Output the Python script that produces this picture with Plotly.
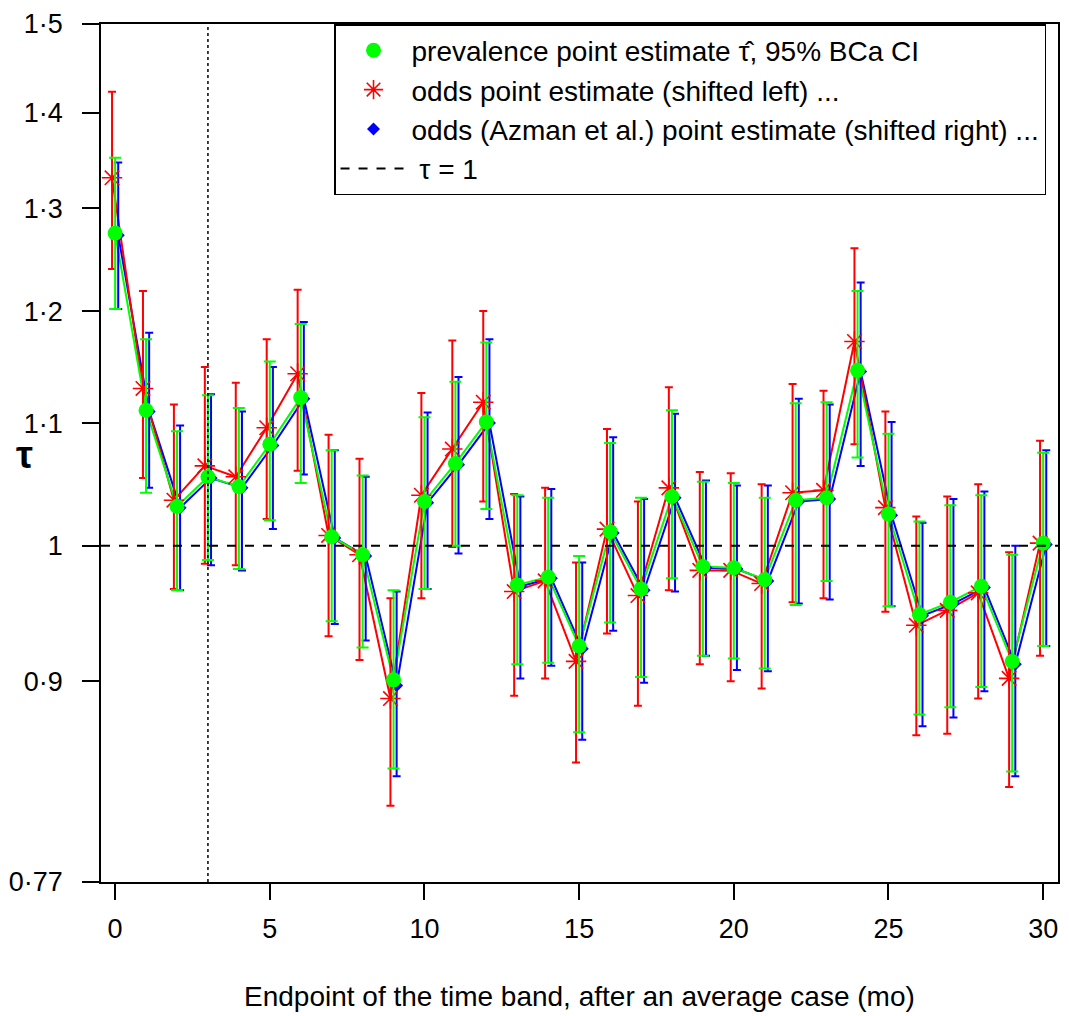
import plotly.graph_objects as go

# ---------------- data ----------------
months = list(range(31))

prev_est = [1.275, 1.111, 1.031, 1.055, 1.047, 1.082, 1.122, 1.007, 0.993, 0.901,
            1.035, 1.066, 1.101, 0.970, 0.976, 0.925, 1.011, 0.967, 1.039, 0.984,
            0.983, 0.974, 1.036, 1.038, 1.146, 1.025, 0.948, 0.957, 0.969, 0.914, 1.002]
prev_lo = [1.202, 1.042, 0.966, 0.989, 0.982, 1.020, 1.050, 0.943, 0.924, 0.841,
           0.967, 1.000, 1.029, 0.912, 0.913, 0.865, 0.942, 0.903, 0.975, 0.918,
           0.916, 0.909, 0.955, 0.973, 1.071, 0.954, 0.877, 0.882, 0.896, 0.839, 0.925]
prev_hi = [1.352, 1.174, 1.093, 1.124, 1.113, 1.154, 1.188, 1.077, 1.056, 0.966,
           1.105, 1.136, 1.171, 1.040, 1.038, 0.992, 1.083, 1.038, 1.111, 1.051,
           1.050, 1.038, 1.117, 1.118, 1.219, 1.091, 1.019, 1.032, 1.040, 0.993, 1.075]

odds_est = [1.331, 1.130, 1.036, 1.064, 1.055, 1.096, 1.143, 1.008, 0.993, 0.888,
            1.040, 1.078, 1.118, 0.965, 0.973, 0.914, 1.013, 0.962, 1.046, 0.981,
            0.981, 0.971, 1.042, 1.044, 1.172, 1.030, 0.940, 0.951, 0.964, 0.902, 1.002]
odds_lo = [1.240, 1.054, 0.967, 0.986, 0.985, 1.021, 1.060, 0.932, 0.915, 0.817,
           0.960, 0.999, 1.035, 0.890, 0.902, 0.845, 0.934, 0.883, 0.966, 0.912,
           0.900, 0.895, 0.957, 0.960, 1.082, 0.950, 0.863, 0.864, 0.888, 0.829, 0.918]
odds_hi = [1.423, 1.219, 1.116, 1.149, 1.135, 1.174, 1.220, 1.090, 1.070, 0.960,
           1.126, 1.173, 1.200, 1.041, 1.046, 0.987, 1.095, 1.035, 1.131, 1.059,
           1.058, 1.049, 1.134, 1.128, 1.260, 1.110, 1.023, 1.039, 1.049, 0.995, 1.085]

azman_est = [1.273, 1.110, 1.030, 1.054, 1.046, 1.081, 1.121, 1.006, 0.992, 0.897,
             1.034, 1.065, 1.100, 0.969, 0.975, 0.923, 1.010, 0.966, 1.038, 0.983,
             0.982, 0.973, 1.035, 1.037, 1.145, 1.024, 0.947, 0.956, 0.968, 0.912, 1.001]
azman_lo = [1.202, 1.046, 0.966, 0.985, 0.981, 1.013, 1.057, 0.941, 0.929, 0.836,
            0.967, 0.994, 1.021, 0.902, 0.911, 0.860, 0.936, 0.899, 0.965, 0.918,
            0.908, 0.907, 0.956, 0.959, 1.064, 0.954, 0.869, 0.875, 0.893, 0.836, 0.925]
azman_hi = [1.347, 1.180, 1.098, 1.125, 1.110, 1.149, 1.190, 1.077, 1.055, 0.965,
            1.109, 1.140, 1.174, 1.039, 1.045, 0.987, 1.088, 1.037, 1.108, 1.052,
            1.048, 1.048, 1.121, 1.116, 1.227, 1.101, 1.018, 1.037, 1.043, 1.000, 1.077]

y_tickvals = [0.77, 0.9, 1.0, 1.1, 1.2, 1.3, 1.4, 1.5]
y_ticktext = ["0·77", "0·9", "1", "1·1", "1·2", "1·3", "1·4", "1·5"]
x_tickvals = [0, 5, 10, 15, 20, 25, 30]

shift = 0.1
threshold_month = 3
reference_tau = 1.0

FONT = "Liberation Sans, Arial, sans-serif"
FS = 27
FS_BIG = 28


def errs(est, lo, hi):
    return ([h - e for e, h in zip(est, hi)], [e - l for e, l in zip(est, lo)])


x_odds = [m - shift for m in months]
x_az = [m + shift for m in months]

fig = go.Figure()

# connecting lines
for xs, ys, col in [(x_az, azman_est, "#0000FF"), (x_odds, odds_est, "#FF0000"),
                    (months, prev_est, "#00FF00")]:
    fig.add_trace(go.Scatter(x=xs, y=ys, mode="lines", line=dict(color=col, width=2),
                             showlegend=False, hoverinfo="skip"))

# Azman (blue)
up, dn = errs(azman_est, azman_lo, azman_hi)
fig.add_trace(go.Scatter(
    x=x_az, y=azman_est, mode="markers",
    name="odds (Azman et al.) point estimate (shifted right) ...",
    marker=dict(symbol="diamond", size=10, color="#0000FF"),
    error_y=dict(type="data", array=up, arrayminus=dn, color="#0000FF",
                 thickness=2, width=4),
    legendrank=3))

# odds (red)
up, dn = errs(odds_est, odds_lo, odds_hi)
fig.add_trace(go.Scatter(
    x=x_odds, y=odds_est, mode="markers",
    name="odds point estimate (shifted left) ...",
    marker=dict(symbol="asterisk-open", size=17, color="#FF0000",
                line=dict(color="#FF0000", width=1.6)),
    error_y=dict(type="data", array=up, arrayminus=dn, color="#FF0000",
                 thickness=2, width=4),
    legendrank=2))

# prevalence (green)
up, dn = errs(prev_est, prev_lo, prev_hi)
fig.add_trace(go.Scatter(
    x=months, y=prev_est, mode="markers",
    name="prevalence point estimate τ\u0302, 95% BCa CI",
    marker=dict(symbol="circle", size=15, color="#00FF00"),
    error_y=dict(type="data", array=up, arrayminus=dn, color="#00FF00",
                 thickness=2, width=6),
    legendrank=1))

# reference lines
fig.add_shape(type="line", xref="paper", x0=0, x1=1, yref="y",
              y0=reference_tau, y1=reference_tau,
              line=dict(color="black", width=2, dash="dash"),
              showlegend=True, name=" τ = 1", legendrank=4)
fig.add_shape(type="line", xref="x", x0=threshold_month, x1=threshold_month,
              yref="paper", y0=0, y1=1,
              line=dict(color="black", width=1.5, dash="dot"))

fig.update_layout(
    width=1069, height=1016, autosize=False,
    margin=dict(l=99, r=9, t=18, b=134),
    paper_bgcolor="white", plot_bgcolor="white",
    font=dict(family=FONT, size=FS, color="black"),
    legend=dict(x=0.2435, y=1.0, xanchor="left", yanchor="top",
                bgcolor="white", bordercolor="black", borderwidth=1.5,
                font=dict(family=FONT, size=FS_BIG), itemwidth=66,
                traceorder="normal"),
    xaxis=dict(range=[-0.457, 30.48], tickvals=x_tickvals, showgrid=False,
               zeroline=False, showline=True, mirror=True, linecolor="black",
               linewidth=1.5, ticks="outside", ticklen=16, tickwidth=1.5,
               tickcolor="black", ticklabelstandoff=6,
               tickfont=dict(family=FONT, size=FS)),
    yaxis=dict(type="log", range=[-0.11351, 0.17609], tickvals=y_tickvals,
               ticktext=y_ticktext, showgrid=False, zeroline=False,
               showline=True, mirror=True, linecolor="black", linewidth=1.5,
               ticks="outside", ticklen=17, tickwidth=1.5, tickcolor="black",
               ticklabelstandoff=14, tickfont=dict(family=FONT, size=FS)),
    annotations=[
        dict(text="Endpoint of the time band, after an average case (mo)",
             xref="paper", yref="paper", x=0.5, y=-0.1331, xanchor="center",
             yanchor="middle", showarrow=False, font=dict(family=FONT, size=FS_BIG)),
        dict(text="<b>τ</b>", xref="paper", yref="paper", x=-0.080, y=0.4977,
             xanchor="center", yanchor="middle", showarrow=False,
             font=dict(family=FONT, size=38)),
    ],
)

fig.write_html("out.html")
